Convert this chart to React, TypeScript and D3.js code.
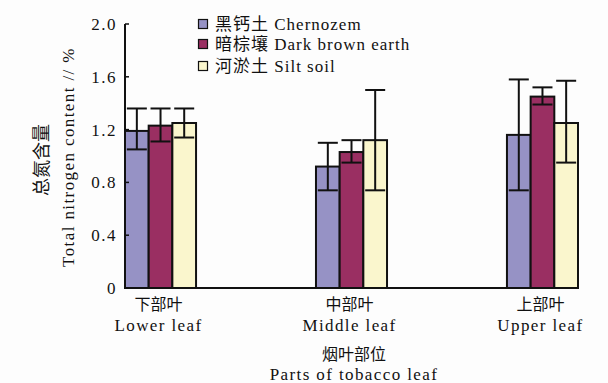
import React from 'react';
import * as d3 from 'd3';

// categories (leaf position) and series (soil type)
const categoriesCn = ['下部叶', '中部叶', '上部叶'];
const categoriesEn = ['Lower leaf', 'Middle leaf', 'Upper leaf'];
const seriesCn = ['黑钙土', '暗棕壤', '河淤土'];
const seriesEn = ['Chernozem', 'Dark brown earth', 'Silt soil'];
const seriesColors = ['#9692c5', '#9a2f62', '#faf6cd'];

// mean total nitrogen (%) per soil, one entry per leaf position
const chernozem = [1.19, 0.92, 1.16];
const darkBrown = [1.23, 1.03, 1.45];
const siltSoil = [1.25, 1.12, 1.25];
// error bar ends (low, high)
const chernozemErr: [number, number][] = [[1.05, 1.36], [0.74, 1.1], [0.74, 1.58]];
const darkBrownErr: [number, number][] = [[1.11, 1.36], [0.95, 1.12], [1.39, 1.52]];
const siltSoilErr: [number, number][] = [[1.14, 1.36], [0.74, 1.5], [0.95, 1.57]];

const yTicks = [0, 0.4, 0.8, 1.2, 1.6, 2.0];

const W = 608;
const H = 383;
const FONT = "'Liberation Serif', 'DejaVu Serif', 'Noto Sans CJK SC', serif";

export default function App() {
  const series = [chernozem, darkBrown, siltSoil];
  const errs = [chernozemErr, darkBrownErr, siltSoilErr];

  const x0 = d3.scaleBand<number>()
    .domain(d3.range(categoriesEn.length))
    .range([125, 578])
    .paddingInner(0.628)
    .paddingOuter(0);
  const x1 = d3.scaleBand<number>()
    .domain(d3.range(series.length))
    .range([0, x0.bandwidth()]);
  const y = d3.scaleLinear().domain([0, 2]).range([288, 24]);

  const capW = 20;

  return (
    <div style={{ position: 'fixed', left: 0, top: 0, width: W, height: H, background: '#fdfdfd' }}>
      <svg width={W} height={H} style={{ display: 'block', fontFamily: FONT }}>
        {/* bars */}
        {series.map((vals, si) =>
          vals.map((v, ci) => {
            const bx = x0(ci)! + x1(si)!;
            return (
              <rect
                key={`b${si}-${ci}`}
                x={bx}
                y={y(v)}
                width={x1.bandwidth()}
                height={y(0) - y(v)}
                fill={seriesColors[si]}
                stroke="#111"
                strokeWidth={2}
              />
            );
          })
        )}
        {/* error bars */}
        {errs.map((es, si) =>
          es.map(([lo, hi], ci) => {
            const cx = x0(ci)! + x1(si)! + x1.bandwidth() / 2;
            return (
              <g key={`e${si}-${ci}`} stroke="#111" strokeWidth={2}>
                <line x1={cx} x2={cx} y1={y(lo)} y2={y(hi)} />
                <line x1={cx - capW / 2} x2={cx + capW / 2} y1={y(hi)} y2={y(hi)} />
                <line x1={cx - capW / 2} x2={cx + capW / 2} y1={y(lo)} y2={y(lo)} />
              </g>
            );
          })
        )}
        {/* axes */}
        <line x1={125} x2={125} y1={y(2)} y2={y(0)} stroke="#111" strokeWidth={2} />
        <line x1={124} x2={578} y1={y(0)} y2={y(0)} stroke="#111" strokeWidth={2} />
        {yTicks.map((t) => (
          <g key={`t${t}`}>
            <line x1={125} x2={129} y1={y(t)} y2={y(t)} stroke="#111" strokeWidth={1.5} />
            <text
              x={117}
              y={y(t)}
              dy="0.35em"
              textAnchor="end"
              fontSize={17}
              letterSpacing={1.5}
              fill="#111"
            >
              {t === 0 ? '0' : t.toFixed(1)}
            </text>
          </g>
        ))}
        {/* category labels */}
        {categoriesEn.map((c, ci) => {
          const cx = x0(ci)! + x0.bandwidth() / 2 - 2;
          return (
            <g key={c} fill="#111" textAnchor="middle">
              <text x={cx} y={304} dy="0.35em" fontSize={16}>{categoriesCn[ci]}</text>
              <text x={cx} y={325} dy="0.35em" fontSize={17} letterSpacing={1.4}>{c}</text>
            </g>
          );
        })}
        {/* x title */}
        <g fill="#111" textAnchor="middle">
          <text x={354} y={354} dy="0.35em" fontSize={16}>烟叶部位</text>
          <text x={354} y={374} dy="0.35em" fontSize={17} letterSpacing={1.4}>Parts of tobacco leaf</text>
        </g>
        {/* y title */}
        <g fill="#111" textAnchor="middle">
          <text transform="translate(42,160) rotate(-90)" dy="0.35em" fontSize={18}>总氮含量</text>
          <text transform="translate(68,157) rotate(-90)" dy="0.35em" fontSize={17} letterSpacing={1.4}>
            Total nitrogen content // %
          </text>
        </g>
        {/* legend */}
        {seriesEn.map((s, si) => {
          const ly = [24, 44, 66][si];
          return (
            <g key={s}>
              <rect x={198.5} y={ly - 4.5} width={9} height={9} fill={seriesColors[si]} stroke="#111" strokeWidth={1.2} />
              <text x={215} y={ly} dy="0.35em" fontSize={17} fill="#111" letterSpacing={1}>
                {seriesCn[si]} {s}
              </text>
            </g>
          );
        })}
      </svg>
    </div>
  );
}
